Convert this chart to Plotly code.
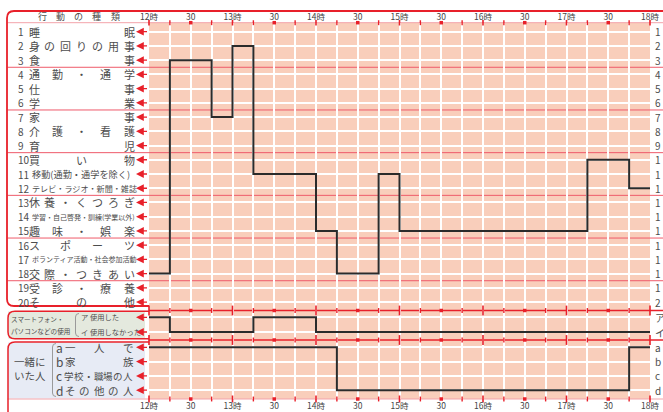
import plotly.graph_objects as go

W, H = 663, 412

# ---------------- data ----------------
activities = ["睡眠", "身の回りの用事", "食事", "通勤・通学", "仕事", "学業", "家事", "介護・看護", "育児",
              "買い物", "移動(通勤・通学を除く)", "テレビ・ラジオ・新聞・雑誌", "休養・くつろぎ",
              "学習・自己啓発・訓練(学業以外)", "趣味・娯楽", "スポーツ", "ボランティア活動・社会参加活動",
              "交際・つきあい", "受診・療養", "その他"]
group_sizes = [3, 3, 3, 3, 3, 3, 2]

activity_times = [12.0, 12.25, 12.75, 13.0, 13.25, 14.0, 14.25, 14.75, 15.0, 17.25, 17.75, 18.0]
activity_rows = [18, 3, 7, 2, 11, 15, 18, 11, 15, 10, 12, 12]

device_codes = ["ア", "イ"]
device_texts = ["使用した", "使用しなかった"]
device_times = [12.0, 12.25, 13.25, 14.0, 18.0]
device_states = ["ア", "イ", "ア", "イ", "イ"]

company_codes = ["a", "b", "c", "d"]
company_texts = ["一人で", "家族", "学校・職場の人", "その他の人"]
company_times = [12.0, 14.25, 17.75, 18.0]
company_states = ["a", "d", "a", "a"]

hour_labels = ["12時", "30", "13時", "30", "14時", "30", "15時", "30", "16時", "30", "17時", "30", "18時"]

# ---------------- styling ----------------
RED = "#e8202a"
SEP = "#ef5a6a"
PINK = "#f9cebb"
INK = "#2b2b2b"
TXT = "#4d4d4d"
FONT = "Noto Sans CJK JP"

def px(x):
    return x / W

def py(y):
    return 1 - y / H

def rng(top, bot, first, step, base=0):
    return [base + (bot - first) / step, base - (first - top) / step]

X0, X1 = 149, 650
P_TOP, P_S1, P_S2, P_BOT = 22.7, 310.5, 340.0, 399.0
R1, DR = 31.7, 14.23

tickvals = [12 + i * 0.25 for i in range(25)]
ticktext = [hour_labels[i // 2] if i % 2 == 0 else "" for i in range(25)]

fig = go.Figure()

# step lines
fig.add_trace(go.Scatter(x=activity_times, y=activity_rows, mode="lines", line=dict(shape="hv", color=INK, width=2),
                         xaxis="x", yaxis="y", hoverinfo="skip"))
fig.add_trace(go.Scatter(x=device_times, y=[device_codes.index(s) for s in device_states], mode="lines",
                         line=dict(shape="hv", color=INK, width=2), xaxis="x2", yaxis="y2", hoverinfo="skip"))
fig.add_trace(go.Scatter(x=company_times, y=[company_codes.index(s) for s in company_states], mode="lines",
                         line=dict(shape="hv", color=INK, width=2), xaxis="x3", yaxis="y3", hoverinfo="skip"))

ry1 = rng(P_TOP, P_S1, R1, DR, base=1)
ry2 = rng(P_S1, P_S2, 317.3, 14.7)
ry3 = rng(P_S2, P_BOT, 347.3, 14.3)

# tick decoration rows
hours = [t for t in tickvals if t % 1 == 0]
halves = [t for t in tickvals if t % 1 == 0.5]
quarters = [t for t in tickvals if t % 0.5 == 0.25]
for xa, ya, yv, hs in [("x", "y", ry1[1], 4), ("x2", "y2", ry2[1], 7), ("x3", "y3", ry3[1], 7), ("x3", "y3", ry3[0], 5)]:
    fig.add_trace(go.Scatter(x=hours, y=[yv] * len(hours), mode="markers", xaxis=xa, yaxis=ya, cliponaxis=False,
                             marker=dict(symbol="line-ns", size=hs, line=dict(color=RED, width=1.6)), hoverinfo="skip"))
    fig.add_trace(go.Scatter(x=halves, y=[yv] * len(halves), mode="markers", xaxis=xa, yaxis=ya, cliponaxis=False,
                             marker=dict(symbol="square", size=3.5, color=RED), hoverinfo="skip"))
    fig.add_trace(go.Scatter(x=quarters, y=[yv] * len(quarters), mode="markers", xaxis=xa, yaxis=ya, cliponaxis=False,
                             marker=dict(symbol="line-ns", size=3.5, line=dict(color=RED, width=1.4)), hoverinfo="skip"))

ann = []

def spread(text, x0, x1, y, yref, size, color=TXT):
    n = len(text)
    for i, ch in enumerate(text):
        x = x0 + (x1 - x0) * i / (n - 1) if n > 1 else x0
        ann.append(dict(x=px(x), y=y, xref="paper", yref=yref, text=ch, showarrow=False, borderpad=0,
                        font=dict(family=FONT, size=size, color=color), xanchor="center", yanchor="middle"))

def label(text, x, y, yref, size, anchor="left", color=TXT):
    ann.append(dict(x=px(x), y=y, xref="paper", yref=yref, text=text, showarrow=False, borderpad=0,
                    font=dict(family=FONT, size=size, color=color), xanchor=anchor, yanchor="middle"))

def arrow(y, yref):
    ann.append(dict(x=px(136), y=y, xref="paper", yref=yref, text="", showarrow=True, ax=12.5, ay=0,
                    arrowhead=2, arrowsize=1.2, arrowwidth=1.3, arrowcolor=RED, standoff=0))

RIGHT_X = 654
compact_sizes = {10: 9.2, 11: 8.1, 13: 7.0, 16: 7.0}
for i, name in enumerate(activities):
    row = i + 1
    label(str(row), 16.5, row, "y", 10)
    if i in compact_sizes:
        label(name, 30.5, row, "y", compact_sizes[i])
    else:
        spread(name, 34, 129, row, "y", 11)
    arrow(row, "y")
    label(str(row)[0], RIGHT_X, row, "y", 10)

# header
spread("行動の種類", 42, 115, py(17), "paper", 9)

# smartphone panel labels
label("スマートフォン・", 9.5, py(318.5), "paper", 6.6)
label("パソコンなどの使用", 9.5, py(330.5), "paper", 6.6)
for i, (c, t) in enumerate(zip(device_codes, device_texts)):
    label(c + " " + t, 80, i, "y2", 7.3)
    arrow(i, "y2")
    label(c, RIGHT_X, i, "y2", 10)

# company panel labels
label("一緒に", 30, 1, "y3", 10.5, anchor="center")
label("いた人", 30, 2, "y3", 10.5, anchor="center")
for i, (c, t) in enumerate(zip(company_codes, company_texts)):
    label(c, 54.5, i, "y3", 12)
    if len(t) < 7:
        spread(t, 70.5, 128, i, "y3", 10.5)
    else:
        spread(t, 69, 128, i, "y3", 9.5)
    arrow(i, "y3")
    label(c, RIGHT_X, i, "y3", 10)

# ---------------- shapes ----------------
def P(*pts):
    out = []
    for p in pts:
        if isinstance(p, str):
            out.append(p)
        else:
            out.append(f"{px(p[0]):.5f},{py(p[1]):.5f}")
    return " ".join(out)

shapes = []
# label-area fills
shapes.append(dict(type="rect", xref="paper", yref="paper", x0=px(8), x1=px(145), y0=py(338.5), y1=py(311.5),
                   fillcolor="#e4e9de", line=dict(width=0), layer="below"))
shapes.append(dict(type="rect", xref="paper", yref="paper", x0=px(8), x1=px(145), y0=py(398.5), y1=py(342.5),
                   fillcolor="#e7ebf5", line=dict(width=0), layer="below"))
# frames
shapes.append(dict(type="path", xref="paper", yref="paper", layer="above",
                   path="M " + P((700, 11), "L", (14, 11), "Q", (7, 11), (7, 18), "L", (7, 299), "Q", (7, 306), (14, 306), "L", (149, 306)),
                   line=dict(color=RED, width=1.8)))
shapes.append(dict(type="path", xref="paper", yref="paper", layer="above",
                   path="M " + P((149, 311.3), "L", (15, 311.3), "Q", (8, 311.3), (8, 318), "L", (8, 332), "Q", (8, 338.8), (15, 338.8), "L", (149, 338.8)),
                   line=dict(color=RED, width=1.5)))
shapes.append(dict(type="path", xref="paper", yref="paper", layer="above",
                   path="M " + P((149, 342), "L", (15, 342), "Q", (8, 342), (8, 349), "L", (8, 430)),
                   line=dict(color=RED, width=1.5)))
# full-width panel lines
for yy in (P_S1, P_S2):
    shapes.append(dict(type="line", xref="paper", yref="paper", x0=px(149), x1=1.02, y0=py(yy), y1=py(yy),
                       line=dict(color=RED, width=1.6), layer="between"))
for yy in (P_TOP, P_BOT):
    shapes.append(dict(type="line", xref="paper", yref="paper", x0=px(7.5), x1=1.02, y0=py(yy), y1=py(yy),
                       line=dict(color="#f3a3aa", width=1), layer="between"))
# group separators
acc = 0
for g in group_sizes[:-1]:
    acc += g
    shapes.append(dict(type="line", xref="paper", yref="y", x0=px(7.5), x1=1.02, y0=acc + 0.5, y1=acc + 0.5,
                       line=dict(color=SEP, width=1), layer="between"))
# brackets
shapes.append(dict(type="path", xref="paper", yref="paper", layer="above",
                   path="M " + P((79, 313.5), "Q", (75.5, 313.5), (75.5, 317), "L", (75.5, 333), "Q", (75.5, 336.5), (79, 336.5)),
                   line=dict(color="#9a9a9a", width=1)))
shapes.append(dict(type="path", xref="paper", yref="paper", layer="above",
                   path="M " + P((56, 343.5), "Q", (52.5, 343.5), (52.5, 347), "L", (52.5, 393), "Q", (52.5, 396.5), (56, 396.5)),
                   line=dict(color="#9a9a9a", width=1)))

grid = dict(showgrid=True, gridcolor="white", gridwidth=1.7, zeroline=False, showline=False, ticks="",
            automargin=False)
xcommon = dict(domain=[px(X0), px(X1)], range=[12, 18], tickvals=tickvals, ticktext=ticktext, **grid,
               tickfont=dict(family=FONT, size=8.5, color="#444"), fixedrange=True)

fig.update_layout(
    width=W, height=H, margin=dict(l=0, r=0, t=0, b=0, autoexpand=False),
    paper_bgcolor="white", plot_bgcolor=PINK, showlegend=False,
    xaxis=dict(anchor="y", side="top", showticklabels=True, **xcommon),
    xaxis2=dict(anchor="y2", showticklabels=False, matches="x", **xcommon),
    xaxis3=dict(anchor="y3", side="bottom", showticklabels=True, matches="x", **xcommon),
    yaxis=dict(domain=[py(P_S1), py(P_TOP)], range=ry1, tickvals=list(range(1, 21)), showticklabels=False,
               fixedrange=True, **grid),
    yaxis2=dict(domain=[py(P_S2), py(P_S1)], range=ry2, tickvals=[0, 1], showticklabels=False,
                fixedrange=True, **grid),
    yaxis3=dict(domain=[py(P_BOT), py(P_S2)], range=ry3, tickvals=[0, 1, 2, 3], showticklabels=False,
                fixedrange=True, **grid),
    annotations=ann, shapes=shapes,
)

fig.write_html("out.html", config={"displayModeBar": False},
               post_script="document.body.style.margin='0px';document.body.style.overflow='hidden';")
